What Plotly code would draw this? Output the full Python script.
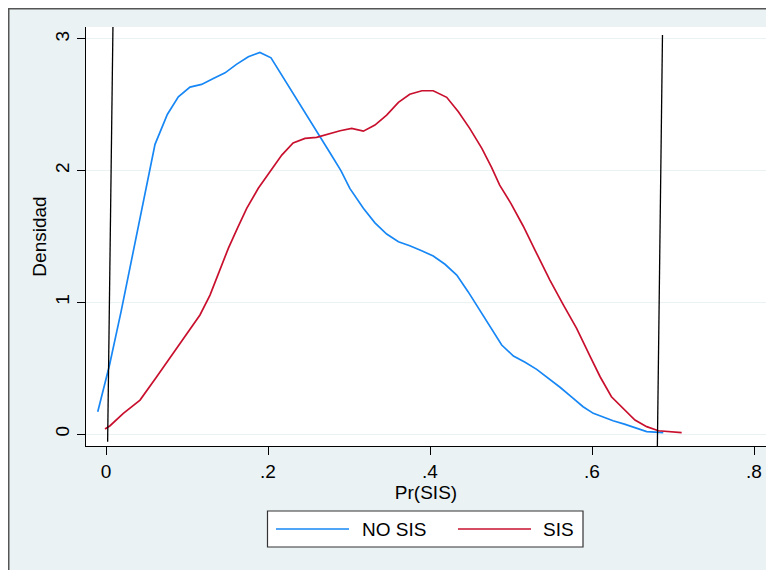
import plotly.graph_objects as go

# ---------------- data ----------------
no_sis_x = [-0.0102, 0.0042, 0.0186, 0.0330, 0.0410, 0.0474, 0.0605, 0.0757, 0.0893, 0.1037,
            0.1180, 0.1325, 0.1470, 0.1610, 0.1757, 0.1900, 0.2037, 0.2765, 0.2900, 0.3010,
            0.3177, 0.3320, 0.3465, 0.3610, 0.3750, 0.3897, 0.4040, 0.4185, 0.4330, 0.4470,
            0.4617, 0.4760, 0.4885, 0.5030, 0.5174, 0.5317, 0.5460, 0.5605, 0.5750, 0.5890,
            0.6016, 0.6130, 0.6260, 0.6400, 0.6510, 0.6675, 0.6880]
no_sis_y = [0.169, 0.520, 0.930, 1.370, 1.625, 1.820, 2.200, 2.427, 2.561, 2.635,
            2.655, 2.700, 2.743, 2.807, 2.865, 2.898, 2.857, 2.136, 2.000, 1.865,
            1.714, 1.604, 1.519, 1.460, 1.430, 1.392, 1.352, 1.289, 1.207, 1.081,
            0.941, 0.800, 0.676, 0.592, 0.545, 0.491, 0.425, 0.355, 0.280, 0.207,
            0.157, 0.128, 0.101, 0.075, 0.051, 0.018, 0.010]

sis_x = [-0.0012, 0.0050, 0.0214, 0.0420, 0.0626, 0.0830, 0.0996, 0.1160, 0.1284, 0.1407,
         0.1510, 0.1620, 0.1737, 0.1880, 0.2025, 0.2170, 0.2310, 0.2457, 0.2600, 0.2745,
         0.2890, 0.3033, 0.3177, 0.3320, 0.3465, 0.3610, 0.3750, 0.3900, 0.4040, 0.4206,
         0.4350, 0.4490, 0.4640, 0.4760, 0.4860, 0.5000, 0.5150, 0.5296, 0.5480, 0.5646,
         0.5810, 0.5975, 0.6100, 0.6240, 0.6387, 0.6530, 0.6675, 0.6820, 0.7107]
sis_y = [0.038, 0.063, 0.157, 0.258, 0.435, 0.613, 0.765, 0.904, 1.055, 1.245,
         1.410, 1.560, 1.714, 1.866, 1.990, 2.118, 2.210, 2.245, 2.253, 2.280,
         2.303, 2.321, 2.300, 2.346, 2.422, 2.519, 2.580, 2.607, 2.607, 2.557,
         2.447, 2.321, 2.169, 2.025, 1.890, 1.750, 1.580, 1.397, 1.169, 0.980,
         0.802, 0.592, 0.435, 0.283, 0.195, 0.106, 0.056, 0.025, 0.010]

# common-support cut lines (slightly slanted, as drawn)
cut_low_x = [0.0020, 0.0086]
cut_low_y = [-0.058, 3.106]
cut_high_x = [0.6806, 0.6870]
cut_high_y = [-0.134, 3.030]

x_tick_vals = [0, 0.2, 0.4, 0.6, 0.8]
x_tick_text = ["0", ".2", ".4", ".6", ".8"]
y_tick_vals = [0, 1, 2, 3]
y_tick_text = ["0", "1", "2", "3"]

series_names = ["NO SIS", "SIS"]
series_colors = ["#1787F5", "#C8102E"]

# ---------------- layout geometry ----------------
# the page body adds an 8px offset; geometry below is in page pixels
OX, OY = 8, 8
W, H = 774, 570
ML, MT = 86 - OX, 27 - OY
MR = W - (766 - OX)
MB = H - (446 - OY)
PW, PH = W - ML - MR, H - MT - MB
FONT = "Liberation Sans, Arial, sans-serif"
FS = 19
BG = "#EAF2F3"


def px(xpage):
    return (xpage - OX - ML) / PW


def py(ypage):
    return (H - MB - (ypage - OY)) / PH


fig = go.Figure()
for xs, ys, name, col in [(no_sis_x, no_sis_y, series_names[0], series_colors[0]),
                          (sis_x, sis_y, series_names[1], series_colors[1])]:
    fig.add_trace(go.Scatter(x=xs, y=ys, mode="lines", name=name,
                             line=dict(color=col, width=1.7), showlegend=False))
for xs, ys in [(cut_low_x, cut_low_y), (cut_high_x, cut_high_y)]:
    fig.add_trace(go.Scatter(x=xs, y=ys, mode="lines", line=dict(color="black", width=1.3),
                             showlegend=False, hoverinfo="skip"))

shapes = []
# outer frame lines (left and top edges of the graph)
shapes.append(dict(type="line", xref="paper", yref="paper", x0=px(OX + 0.75), x1=px(OX + 0.75),
                   y0=py(OY), y1=py(OY + H + 5), line=dict(color="#555555", width=1.5)))
shapes.append(dict(type="line", xref="paper", yref="paper", x0=px(OX), x1=px(OX + W + 5),
                   y0=py(OY + 0.75), y1=py(OY + 0.75), line=dict(color="#555555", width=1.5)))

# legend box
shapes.append(dict(type="rect", xref="paper", yref="paper", x0=px(267.5), x1=px(583), y0=py(547), y1=py(511),
                   fillcolor="white", line=dict(color="#333333", width=1.2)))
leg_line_x = [(276, 349), (458, 531)]
leg_text_x = [362, 543]
annotations = []
for (a, b), tx, name, col in zip(leg_line_x, leg_text_x, series_names, series_colors):
    shapes.append(dict(type="line", xref="paper", yref="paper", x0=px(a), x1=px(b), y0=py(529), y1=py(529),
                       line=dict(color=col, width=1.7)))
    annotations.append(dict(x=px(tx), y=py(529.5), xref="paper", yref="paper", text=name, showarrow=False,
                            xanchor="left", yanchor="middle", xshift=-2,
                            font=dict(family=FONT, size=FS, color="black")))

fig.update_layout(
    width=W, height=H,
    margin=dict(l=ML, r=MR, t=MT, b=MB, pad=0),
    paper_bgcolor=BG, plot_bgcolor="white",
    font=dict(family=FONT, size=FS, color="black"),
    showlegend=False,
    shapes=shapes,
    annotations=annotations,
    xaxis=dict(range=[-0.0247, 0.8148], tickvals=x_tick_vals, ticktext=x_tick_text,
               showgrid=False, zeroline=False, showline=True, linecolor="black", linewidth=1.2,
               ticks="outside", ticklen=8, tickcolor="black", tickwidth=1.2,
               tickfont=dict(family=FONT, size=FS, color="black"),
               title=dict(text="Pr(SIS)", standoff=3, font=dict(family=FONT, size=FS, color="black"))),
    yaxis=dict(range=[-0.091, 3.091], tickvals=y_tick_vals, ticktext=y_tick_text, tickangle=-90,
               showgrid=True, gridcolor=BG, gridwidth=1.3, zeroline=False,
               showline=True, linecolor="black", linewidth=1.2,
               ticks="outside", ticklen=8, tickcolor="black", tickwidth=1.2,
               tickfont=dict(family=FONT, size=FS, color="black"),
               title=dict(text="Densidad", standoff=0, font=dict(family=FONT, size=FS, color="black"))),
)

fig.write_html("out.html")
